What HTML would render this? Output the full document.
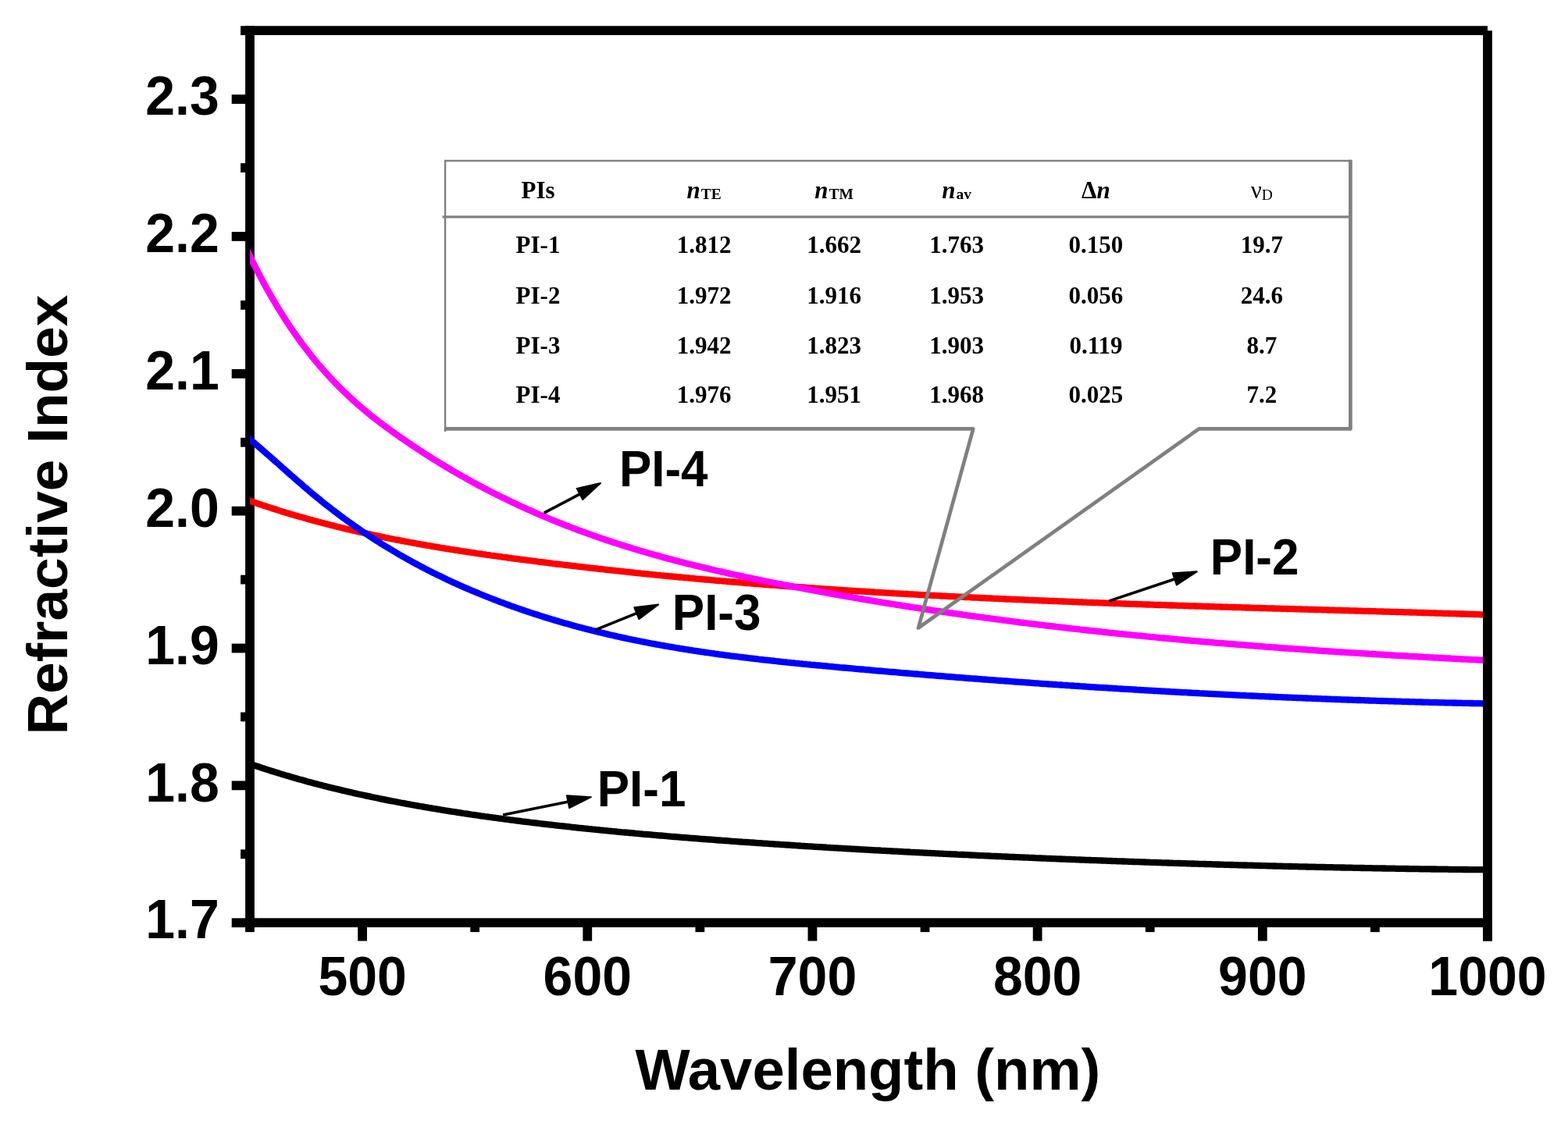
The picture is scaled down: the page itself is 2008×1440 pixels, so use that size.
<!DOCTYPE html>
<html><head><meta charset="utf-8"><title>Refractive Index vs Wavelength</title>
<style>
html,body{margin:0;padding:0;background:#fff;}
body{width:2008px;height:1440px;overflow:hidden;}
svg{display:block;}
.ax{font-family:"Liberation Sans",Arial,sans-serif;font-weight:bold;fill:#000;}
.tb{font-family:"Liberation Serif","Times New Roman",serif;font-weight:bold;fill:#000;}
</style></head><body>
<svg width="2008" height="1440" viewBox="0 0 2008 1440">
<rect x="0" y="0" width="2008" height="1440" fill="#fff"/>

<g stroke="#000" stroke-width="11.8" fill="none" stroke-linecap="butt">
<line x1="320.0" y1="33.27499999999973" x2="320.0" y2="1188.1000000000001"/>
<line x1="314.1" y1="39.17499999999973" x2="1904.99" y2="39.17499999999973"/>
<line x1="314.1" y1="1182.2" x2="1910.89" y2="1182.2"/>
<line x1="296.70" y1="1182.20" x2="320.0" y2="1182.20"/>
<line x1="308.10" y1="1094.27" x2="320.0" y2="1094.27"/>
<line x1="296.70" y1="1006.35" x2="320.0" y2="1006.35"/>
<line x1="308.10" y1="918.42" x2="320.0" y2="918.42"/>
<line x1="296.70" y1="830.50" x2="320.0" y2="830.50"/>
<line x1="308.10" y1="742.58" x2="320.0" y2="742.58"/>
<line x1="296.70" y1="654.65" x2="320.0" y2="654.65"/>
<line x1="308.10" y1="566.73" x2="320.0" y2="566.73"/>
<line x1="296.70" y1="478.80" x2="320.0" y2="478.80"/>
<line x1="308.10" y1="390.88" x2="320.0" y2="390.88"/>
<line x1="296.70" y1="302.95" x2="320.0" y2="302.95"/>
<line x1="308.10" y1="215.02" x2="320.0" y2="215.02"/>
<line x1="296.70" y1="127.10" x2="320.0" y2="127.10"/>
<line x1="308.10" y1="39.17" x2="320.0" y2="39.17"/>
<line x1="320.00" y1="1182.2" x2="320.00" y2="1194.10"/>
<line x1="464.09" y1="1182.2" x2="464.09" y2="1205.50"/>
<line x1="608.18" y1="1182.2" x2="608.18" y2="1194.10"/>
<line x1="752.27" y1="1182.2" x2="752.27" y2="1205.50"/>
<line x1="896.36" y1="1182.2" x2="896.36" y2="1194.10"/>
<line x1="1040.45" y1="1182.2" x2="1040.45" y2="1205.50"/>
<line x1="1184.54" y1="1182.2" x2="1184.54" y2="1194.10"/>
<line x1="1328.63" y1="1182.2" x2="1328.63" y2="1205.50"/>
<line x1="1472.72" y1="1182.2" x2="1472.72" y2="1194.10"/>
<line x1="1616.81" y1="1182.2" x2="1616.81" y2="1205.50"/>
<line x1="1760.90" y1="1182.2" x2="1760.90" y2="1194.10"/>
<line x1="1904.99" y1="1182.2" x2="1904.99" y2="1205.50"/>
</g>
<defs><clipPath id="pc"><rect x="320.0" y="0" width="1584.99" height="1440"/></clipPath></defs>
<g fill="none" stroke-width="8.3" stroke-linejoin="round" stroke-linecap="butt" clip-path="url(#pc)">
<path d="M316.0,977.2 L318.5,978.0 L321.0,978.9 L323.5,979.8 L326.0,980.6 L328.5,981.5 L331.0,982.3 L333.5,983.1 L336.0,984.0 L338.5,984.8 L341.0,985.6 L343.5,986.4 L346.0,987.2 L348.5,988.0 L351.0,988.8 L353.5,989.6 L356.0,990.3 L358.5,991.1 L361.0,991.9 L363.5,992.6 L366.0,993.4 L368.5,994.1 L371.0,994.8 L373.5,995.6 L376.0,996.3 L378.5,997.0 L381.0,997.7 L383.5,998.4 L386.0,999.1 L388.5,999.8 L391.0,1000.5 L393.5,1001.2 L396.0,1001.9 L398.5,1002.5 L401.0,1003.2 L403.5,1003.9 L406.0,1004.5 L408.5,1005.2 L411.0,1005.8 L413.5,1006.5 L416.0,1007.1 L418.5,1007.7 L421.0,1008.4 L423.5,1009.0 L426.0,1009.6 L428.5,1010.2 L431.0,1010.8 L433.5,1011.4 L436.0,1012.0 L438.5,1012.6 L441.0,1013.2 L443.5,1013.8 L446.0,1014.4 L448.5,1014.9 L451.0,1015.5 L453.5,1016.1 L456.0,1016.6 L458.5,1017.2 L461.0,1017.7 L463.5,1018.3 L466.0,1018.8 L468.5,1019.4 L471.0,1019.9 L473.5,1020.4 L476.0,1021.0 L478.5,1021.5 L481.0,1022.0 L483.5,1022.5 L486.0,1023.1 L488.5,1023.6 L491.0,1024.1 L493.5,1024.6 L496.0,1025.1 L498.5,1025.6 L501.0,1026.1 L503.5,1026.5 L506.0,1027.0 L508.5,1027.5 L511.0,1028.0 L513.5,1028.5 L516.0,1028.9 L518.5,1029.4 L521.0,1029.9 L523.5,1030.3 L526.0,1030.8 L528.5,1031.2 L531.0,1031.7 L533.5,1032.1 L536.0,1032.6 L538.5,1033.0 L541.0,1033.4 L543.5,1033.9 L546.0,1034.3 L548.5,1034.7 L551.0,1035.2 L553.5,1035.6 L556.0,1036.0 L558.5,1036.4 L561.0,1036.8 L563.5,1037.2 L566.0,1037.7 L568.5,1038.1 L571.0,1038.5 L573.5,1038.9 L576.0,1039.3 L578.5,1039.7 L581.0,1040.0 L583.5,1040.4 L586.0,1040.8 L588.5,1041.2 L591.0,1041.6 L593.5,1042.0 L596.0,1042.3 L598.5,1042.7 L601.0,1043.1 L603.5,1043.5 L606.0,1043.8 L608.5,1044.2 L611.0,1044.5 L613.5,1044.9 L616.0,1045.3 L618.5,1045.6 L621.0,1046.0 L623.5,1046.3 L626.0,1046.7 L628.5,1047.0 L631.0,1047.4 L633.5,1047.7 L636.0,1048.0 L638.5,1048.4 L641.0,1048.7 L643.5,1049.0 L646.0,1049.4 L648.5,1049.7 L651.0,1050.0 L653.5,1050.4 L656.0,1050.7 L658.5,1051.0 L661.0,1051.3 L663.5,1051.6 L666.0,1051.9 L668.5,1052.3 L671.0,1052.6 L673.5,1052.9 L676.0,1053.2 L678.5,1053.5 L681.0,1053.8 L683.5,1054.1 L686.0,1054.4 L688.5,1054.7 L691.0,1055.0 L693.5,1055.3 L696.0,1055.6 L698.5,1055.9 L701.0,1056.2 L703.5,1056.5 L706.0,1056.7 L708.5,1057.0 L711.0,1057.3 L713.5,1057.6 L716.0,1057.9 L718.5,1058.1 L721.0,1058.4 L723.5,1058.7 L726.0,1059.0 L728.5,1059.2 L731.0,1059.5 L733.5,1059.8 L736.0,1060.0 L738.5,1060.3 L741.0,1060.6 L743.5,1060.8 L746.0,1061.1 L748.5,1061.4 L751.0,1061.6 L753.5,1061.9 L756.0,1062.1 L758.5,1062.4 L761.0,1062.6 L763.5,1062.9 L766.0,1063.1 L768.5,1063.4 L771.0,1063.6 L773.5,1063.9 L776.0,1064.1 L778.5,1064.4 L781.0,1064.6 L783.5,1064.9 L786.0,1065.1 L788.5,1065.3 L791.0,1065.6 L793.5,1065.8 L796.0,1066.1 L798.5,1066.3 L801.0,1066.5 L803.5,1066.7 L806.0,1067.0 L808.5,1067.2 L811.0,1067.4 L813.5,1067.7 L816.0,1067.9 L818.5,1068.1 L821.0,1068.3 L823.5,1068.6 L826.0,1068.8 L828.5,1069.0 L831.0,1069.2 L833.5,1069.4 L836.0,1069.7 L838.5,1069.9 L841.0,1070.1 L843.5,1070.3 L846.0,1070.5 L848.5,1070.7 L851.0,1070.9 L853.5,1071.2 L856.0,1071.4 L858.5,1071.6 L861.0,1071.8 L863.5,1072.0 L866.0,1072.2 L868.5,1072.4 L871.0,1072.6 L873.5,1072.8 L876.0,1073.0 L878.5,1073.2 L881.0,1073.4 L883.5,1073.6 L886.0,1073.8 L888.5,1074.0 L891.0,1074.2 L893.5,1074.4 L896.0,1074.6 L898.5,1074.8 L901.0,1075.0 L903.5,1075.2 L906.0,1075.4 L908.5,1075.5 L911.0,1075.7 L913.5,1075.9 L916.0,1076.1 L918.5,1076.3 L921.0,1076.5 L923.5,1076.7 L926.0,1076.9 L928.5,1077.0 L931.0,1077.2 L933.5,1077.4 L936.0,1077.6 L938.5,1077.8 L941.0,1077.9 L943.5,1078.1 L946.0,1078.3 L948.5,1078.5 L951.0,1078.7 L953.5,1078.8 L956.0,1079.0 L958.5,1079.2 L961.0,1079.4 L963.5,1079.5 L966.0,1079.7 L968.5,1079.9 L971.0,1080.1 L973.5,1080.2 L976.0,1080.4 L978.5,1080.6 L981.0,1080.7 L983.5,1080.9 L986.0,1081.1 L988.5,1081.2 L991.0,1081.4 L993.5,1081.6 L996.0,1081.7 L998.5,1081.9 L1001.0,1082.1 L1003.5,1082.2 L1006.0,1082.4 L1008.5,1082.5 L1011.0,1082.7 L1013.5,1082.9 L1016.0,1083.0 L1018.5,1083.2 L1021.0,1083.3 L1023.5,1083.5 L1026.0,1083.7 L1028.5,1083.8 L1031.0,1084.0 L1033.5,1084.1 L1036.0,1084.3 L1038.5,1084.4 L1041.0,1084.6 L1043.5,1084.8 L1046.0,1084.9 L1048.5,1085.1 L1051.0,1085.2 L1053.5,1085.4 L1056.0,1085.5 L1058.5,1085.7 L1061.0,1085.8 L1063.5,1086.0 L1066.0,1086.1 L1068.5,1086.3 L1071.0,1086.4 L1073.5,1086.6 L1076.0,1086.7 L1078.5,1086.8 L1081.0,1087.0 L1083.5,1087.1 L1086.0,1087.3 L1088.5,1087.4 L1091.0,1087.6 L1093.5,1087.7 L1096.0,1087.9 L1098.5,1088.0 L1101.0,1088.1 L1103.5,1088.3 L1106.0,1088.4 L1108.5,1088.6 L1111.0,1088.7 L1113.5,1088.8 L1116.0,1089.0 L1118.5,1089.1 L1121.0,1089.3 L1123.5,1089.4 L1126.0,1089.5 L1128.5,1089.7 L1131.0,1089.8 L1133.5,1089.9 L1136.0,1090.1 L1138.5,1090.2 L1141.0,1090.3 L1143.5,1090.5 L1146.0,1090.6 L1148.5,1090.7 L1151.0,1090.9 L1153.5,1091.0 L1156.0,1091.1 L1158.5,1091.3 L1161.0,1091.4 L1163.5,1091.5 L1166.0,1091.7 L1168.5,1091.8 L1171.0,1091.9 L1173.5,1092.1 L1176.0,1092.2 L1178.5,1092.3 L1181.0,1092.4 L1183.5,1092.6 L1186.0,1092.7 L1188.5,1092.8 L1191.0,1092.9 L1193.5,1093.1 L1196.0,1093.2 L1198.5,1093.3 L1201.0,1093.4 L1203.5,1093.6 L1206.0,1093.7 L1208.5,1093.8 L1211.0,1093.9 L1213.5,1094.1 L1216.0,1094.2 L1218.5,1094.3 L1221.0,1094.4 L1223.5,1094.5 L1226.0,1094.7 L1228.5,1094.8 L1231.0,1094.9 L1233.5,1095.0 L1236.0,1095.1 L1238.5,1095.2 L1241.0,1095.4 L1243.5,1095.5 L1246.0,1095.6 L1248.5,1095.7 L1251.0,1095.8 L1253.5,1096.0 L1256.0,1096.1 L1258.5,1096.2 L1261.0,1096.3 L1263.5,1096.4 L1266.0,1096.5 L1268.5,1096.6 L1271.0,1096.8 L1273.5,1096.9 L1276.0,1097.0 L1278.5,1097.1 L1281.0,1097.2 L1283.5,1097.3 L1286.0,1097.4 L1288.5,1097.5 L1291.0,1097.6 L1293.5,1097.8 L1296.0,1097.9 L1298.5,1098.0 L1301.0,1098.1 L1303.5,1098.2 L1306.0,1098.3 L1308.5,1098.4 L1311.0,1098.5 L1313.5,1098.6 L1316.0,1098.7 L1318.5,1098.8 L1321.0,1098.9 L1323.5,1099.0 L1326.0,1099.2 L1328.5,1099.3 L1331.0,1099.4 L1333.5,1099.5 L1336.0,1099.6 L1338.5,1099.7 L1341.0,1099.8 L1343.5,1099.9 L1346.0,1100.0 L1348.5,1100.1 L1351.0,1100.2 L1353.5,1100.3 L1356.0,1100.4 L1358.5,1100.5 L1361.0,1100.6 L1363.5,1100.7 L1366.0,1100.8 L1368.5,1100.9 L1371.0,1101.0 L1373.5,1101.1 L1376.0,1101.2 L1378.5,1101.3 L1381.0,1101.4 L1383.5,1101.5 L1386.0,1101.6 L1388.5,1101.7 L1391.0,1101.8 L1393.5,1101.9 L1396.0,1102.0 L1398.5,1102.1 L1401.0,1102.1 L1403.5,1102.2 L1406.0,1102.3 L1408.5,1102.4 L1411.0,1102.5 L1413.5,1102.6 L1416.0,1102.7 L1418.5,1102.8 L1421.0,1102.9 L1423.5,1103.0 L1426.0,1103.1 L1428.5,1103.2 L1431.0,1103.3 L1433.5,1103.4 L1436.0,1103.4 L1438.5,1103.5 L1441.0,1103.6 L1443.5,1103.7 L1446.0,1103.8 L1448.5,1103.9 L1451.0,1104.0 L1453.5,1104.1 L1456.0,1104.2 L1458.5,1104.2 L1461.0,1104.3 L1463.5,1104.4 L1466.0,1104.5 L1468.5,1104.6 L1471.0,1104.7 L1473.5,1104.8 L1476.0,1104.8 L1478.5,1104.9 L1481.0,1105.0 L1483.5,1105.1 L1486.0,1105.2 L1488.5,1105.3 L1491.0,1105.3 L1493.5,1105.4 L1496.0,1105.5 L1498.5,1105.6 L1501.0,1105.7 L1503.5,1105.8 L1506.0,1105.8 L1508.5,1105.9 L1511.0,1106.0 L1513.5,1106.1 L1516.0,1106.2 L1518.5,1106.2 L1521.0,1106.3 L1523.5,1106.4 L1526.0,1106.5 L1528.5,1106.5 L1531.0,1106.6 L1533.5,1106.7 L1536.0,1106.8 L1538.5,1106.9 L1541.0,1106.9 L1543.5,1107.0 L1546.0,1107.1 L1548.5,1107.2 L1551.0,1107.2 L1553.5,1107.3 L1556.0,1107.4 L1558.5,1107.5 L1561.0,1107.5 L1563.5,1107.6 L1566.0,1107.7 L1568.5,1107.8 L1571.0,1107.8 L1573.5,1107.9 L1576.0,1108.0 L1578.5,1108.0 L1581.0,1108.1 L1583.5,1108.2 L1586.0,1108.3 L1588.5,1108.3 L1591.0,1108.4 L1593.5,1108.5 L1596.0,1108.5 L1598.5,1108.6 L1601.0,1108.7 L1603.5,1108.7 L1606.0,1108.8 L1608.5,1108.9 L1611.0,1108.9 L1613.5,1109.0 L1616.0,1109.1 L1618.5,1109.1 L1621.0,1109.2 L1623.5,1109.3 L1626.0,1109.3 L1628.5,1109.4 L1631.0,1109.5 L1633.5,1109.5 L1636.0,1109.6 L1638.5,1109.6 L1641.0,1109.7 L1643.5,1109.8 L1646.0,1109.8 L1648.5,1109.9 L1651.0,1110.0 L1653.5,1110.0 L1656.0,1110.1 L1658.5,1110.1 L1661.0,1110.2 L1663.5,1110.3 L1666.0,1110.3 L1668.5,1110.4 L1671.0,1110.4 L1673.5,1110.5 L1676.0,1110.6 L1678.5,1110.6 L1681.0,1110.7 L1683.5,1110.7 L1686.0,1110.8 L1688.5,1110.8 L1691.0,1110.9 L1693.5,1110.9 L1696.0,1111.0 L1698.5,1111.1 L1701.0,1111.1 L1703.5,1111.2 L1706.0,1111.2 L1708.5,1111.3 L1711.0,1111.3 L1713.5,1111.4 L1716.0,1111.4 L1718.5,1111.5 L1721.0,1111.5 L1723.5,1111.6 L1726.0,1111.6 L1728.5,1111.7 L1731.0,1111.7 L1733.5,1111.8 L1736.0,1111.8 L1738.5,1111.9 L1741.0,1111.9 L1743.5,1112.0 L1746.0,1112.0 L1748.5,1112.1 L1751.0,1112.1 L1753.5,1112.2 L1756.0,1112.2 L1758.5,1112.3 L1761.0,1112.3 L1763.5,1112.4 L1766.0,1112.4 L1768.5,1112.4 L1771.0,1112.5 L1773.5,1112.5 L1776.0,1112.6 L1778.5,1112.6 L1781.0,1112.7 L1783.5,1112.7 L1786.0,1112.7 L1788.5,1112.8 L1791.0,1112.8 L1793.5,1112.9 L1796.0,1112.9 L1798.5,1112.9 L1801.0,1113.0 L1803.5,1113.0 L1806.0,1113.1 L1808.5,1113.1 L1811.0,1113.1 L1813.5,1113.2 L1816.0,1113.2 L1818.5,1113.3 L1821.0,1113.3 L1823.5,1113.3 L1826.0,1113.4 L1828.5,1113.4 L1831.0,1113.4 L1833.5,1113.5 L1836.0,1113.5 L1838.5,1113.5 L1841.0,1113.6 L1843.5,1113.6 L1846.0,1113.6 L1848.5,1113.7 L1851.0,1113.7 L1853.5,1113.7 L1856.0,1113.8 L1858.5,1113.8 L1861.0,1113.8 L1863.5,1113.9 L1866.0,1113.9 L1868.5,1113.9 L1871.0,1113.9 L1873.5,1114.0 L1876.0,1114.0 L1878.5,1114.0 L1881.0,1114.1 L1883.5,1114.1 L1886.0,1114.1 L1888.5,1114.1 L1891.0,1114.2 L1893.5,1114.2 L1896.0,1114.2 L1898.5,1114.2 L1901.0,1114.3 L1903.5,1114.3 L1906.0,1114.3 L1908.5,1114.3" stroke="#000"/>
<path d="M316.0,640.3 L318.5,641.2 L321.0,642.1 L323.5,642.9 L326.0,643.8 L328.5,644.6 L331.0,645.5 L333.5,646.3 L336.0,647.2 L338.5,648.0 L341.0,648.8 L343.5,649.6 L346.0,650.4 L348.5,651.2 L351.0,652.0 L353.5,652.8 L356.0,653.6 L358.5,654.4 L361.0,655.2 L363.5,655.9 L366.0,656.7 L368.5,657.4 L371.0,658.2 L373.5,658.9 L376.0,659.7 L378.5,660.4 L381.0,661.1 L383.5,661.9 L386.0,662.6 L388.5,663.3 L391.0,664.0 L393.5,664.7 L396.0,665.4 L398.5,666.1 L401.0,666.8 L403.5,667.4 L406.0,668.1 L408.5,668.8 L411.0,669.4 L413.5,670.1 L416.0,670.8 L418.5,671.4 L421.0,672.0 L423.5,672.7 L426.0,673.3 L428.5,673.9 L431.0,674.6 L433.5,675.2 L436.0,675.8 L438.5,676.4 L441.0,677.0 L443.5,677.6 L446.0,678.2 L448.5,678.8 L451.0,679.4 L453.5,680.0 L456.0,680.5 L458.5,681.1 L461.0,681.7 L463.5,682.2 L466.0,682.8 L468.5,683.3 L471.0,683.9 L473.5,684.4 L476.0,685.0 L478.5,685.5 L481.0,686.1 L483.5,686.6 L486.0,687.1 L488.5,687.6 L491.0,688.1 L493.5,688.7 L496.0,689.2 L498.5,689.7 L501.0,690.2 L503.5,690.7 L506.0,691.2 L508.5,691.7 L511.0,692.1 L513.5,692.6 L516.0,693.1 L518.5,693.6 L521.0,694.0 L523.5,694.5 L526.0,695.0 L528.5,695.4 L531.0,695.9 L533.5,696.4 L536.0,696.8 L538.5,697.3 L541.0,697.7 L543.5,698.1 L546.0,698.6 L548.5,699.0 L551.0,699.4 L553.5,699.9 L556.0,700.3 L558.5,700.7 L561.0,701.1 L563.5,701.6 L566.0,702.0 L568.5,702.4 L571.0,702.8 L573.5,703.2 L576.0,703.6 L578.5,704.0 L581.0,704.4 L583.5,704.8 L586.0,705.2 L588.5,705.6 L591.0,706.0 L593.5,706.3 L596.0,706.7 L598.5,707.1 L601.0,707.5 L603.5,707.9 L606.0,708.2 L608.5,708.6 L611.0,709.0 L613.5,709.3 L616.0,709.7 L618.5,710.1 L621.0,710.4 L623.5,710.8 L626.0,711.1 L628.5,711.5 L631.0,711.8 L633.5,712.2 L636.0,712.5 L638.5,712.9 L641.0,713.2 L643.5,713.6 L646.0,713.9 L648.5,714.2 L651.0,714.6 L653.5,714.9 L656.0,715.3 L658.5,715.6 L661.0,715.9 L663.5,716.2 L666.0,716.6 L668.5,716.9 L671.0,717.2 L673.5,717.5 L676.0,717.9 L678.5,718.2 L681.0,718.5 L683.5,718.8 L686.0,719.1 L688.5,719.5 L691.0,719.8 L693.5,720.1 L696.0,720.4 L698.5,720.7 L701.0,721.0 L703.5,721.3 L706.0,721.6 L708.5,722.0 L711.0,722.3 L713.5,722.6 L716.0,722.9 L718.5,723.2 L721.0,723.5 L723.5,723.8 L726.0,724.1 L728.5,724.4 L731.0,724.7 L733.5,725.0 L736.0,725.2 L738.5,725.5 L741.0,725.8 L743.5,726.1 L746.0,726.4 L748.5,726.7 L751.0,727.0 L753.5,727.3 L756.0,727.6 L758.5,727.8 L761.0,728.1 L763.5,728.4 L766.0,728.7 L768.5,729.0 L771.0,729.2 L773.5,729.5 L776.0,729.8 L778.5,730.1 L781.0,730.3 L783.5,730.6 L786.0,730.9 L788.5,731.2 L791.0,731.4 L793.5,731.7 L796.0,732.0 L798.5,732.2 L801.0,732.5 L803.5,732.8 L806.0,733.0 L808.5,733.3 L811.0,733.5 L813.5,733.8 L816.0,734.1 L818.5,734.3 L821.0,734.6 L823.5,734.8 L826.0,735.1 L828.5,735.3 L831.0,735.6 L833.5,735.8 L836.0,736.1 L838.5,736.3 L841.0,736.6 L843.5,736.8 L846.0,737.1 L848.5,737.3 L851.0,737.6 L853.5,737.8 L856.0,738.1 L858.5,738.3 L861.0,738.5 L863.5,738.8 L866.0,739.0 L868.5,739.3 L871.0,739.5 L873.5,739.7 L876.0,740.0 L878.5,740.2 L881.0,740.4 L883.5,740.7 L886.0,740.9 L888.5,741.1 L891.0,741.4 L893.5,741.6 L896.0,741.8 L898.5,742.0 L901.0,742.3 L903.5,742.5 L906.0,742.7 L908.5,742.9 L911.0,743.2 L913.5,743.4 L916.0,743.6 L918.5,743.8 L921.0,744.0 L923.5,744.2 L926.0,744.5 L928.5,744.7 L931.0,744.9 L933.5,745.1 L936.0,745.3 L938.5,745.5 L941.0,745.7 L943.5,745.9 L946.0,746.1 L948.5,746.4 L951.0,746.6 L953.5,746.8 L956.0,747.0 L958.5,747.2 L961.0,747.4 L963.5,747.6 L966.0,747.8 L968.5,748.0 L971.0,748.2 L973.5,748.4 L976.0,748.6 L978.5,748.8 L981.0,749.0 L983.5,749.2 L986.0,749.4 L988.5,749.6 L991.0,749.7 L993.5,749.9 L996.0,750.1 L998.5,750.3 L1001.0,750.5 L1003.5,750.7 L1006.0,750.9 L1008.5,751.1 L1011.0,751.3 L1013.5,751.4 L1016.0,751.6 L1018.5,751.8 L1021.0,752.0 L1023.5,752.2 L1026.0,752.4 L1028.5,752.5 L1031.0,752.7 L1033.5,752.9 L1036.0,753.1 L1038.5,753.2 L1041.0,753.4 L1043.5,753.6 L1046.0,753.8 L1048.5,753.9 L1051.0,754.1 L1053.5,754.3 L1056.0,754.5 L1058.5,754.6 L1061.0,754.8 L1063.5,755.0 L1066.0,755.1 L1068.5,755.3 L1071.0,755.5 L1073.5,755.6 L1076.0,755.8 L1078.5,756.0 L1081.0,756.1 L1083.5,756.3 L1086.0,756.5 L1088.5,756.6 L1091.0,756.8 L1093.5,756.9 L1096.0,757.1 L1098.5,757.3 L1101.0,757.4 L1103.5,757.6 L1106.0,757.7 L1108.5,757.9 L1111.0,758.0 L1113.5,758.2 L1116.0,758.4 L1118.5,758.5 L1121.0,758.7 L1123.5,758.8 L1126.0,759.0 L1128.5,759.1 L1131.0,759.3 L1133.5,759.4 L1136.0,759.6 L1138.5,759.7 L1141.0,759.9 L1143.5,760.0 L1146.0,760.2 L1148.5,760.3 L1151.0,760.4 L1153.5,760.6 L1156.0,760.7 L1158.5,760.9 L1161.0,761.0 L1163.5,761.2 L1166.0,761.3 L1168.5,761.4 L1171.0,761.6 L1173.5,761.7 L1176.0,761.8 L1178.5,762.0 L1181.0,762.1 L1183.5,762.3 L1186.0,762.4 L1188.5,762.5 L1191.0,762.7 L1193.5,762.8 L1196.0,762.9 L1198.5,763.1 L1201.0,763.2 L1203.5,763.3 L1206.0,763.5 L1208.5,763.6 L1211.0,763.7 L1213.5,763.8 L1216.0,764.0 L1218.5,764.1 L1221.0,764.2 L1223.5,764.4 L1226.0,764.5 L1228.5,764.6 L1231.0,764.7 L1233.5,764.9 L1236.0,765.0 L1238.5,765.1 L1241.0,765.2 L1243.5,765.3 L1246.0,765.5 L1248.5,765.6 L1251.0,765.7 L1253.5,765.8 L1256.0,766.0 L1258.5,766.1 L1261.0,766.2 L1263.5,766.3 L1266.0,766.4 L1268.5,766.5 L1271.0,766.7 L1273.5,766.8 L1276.0,766.9 L1278.5,767.0 L1281.0,767.1 L1283.5,767.2 L1286.0,767.3 L1288.5,767.5 L1291.0,767.6 L1293.5,767.7 L1296.0,767.8 L1298.5,767.9 L1301.0,768.0 L1303.5,768.1 L1306.0,768.2 L1308.5,768.3 L1311.0,768.4 L1313.5,768.6 L1316.0,768.7 L1318.5,768.8 L1321.0,768.9 L1323.5,769.0 L1326.0,769.1 L1328.5,769.2 L1331.0,769.3 L1333.5,769.4 L1336.0,769.5 L1338.5,769.6 L1341.0,769.7 L1343.5,769.8 L1346.0,769.9 L1348.5,770.0 L1351.0,770.1 L1353.5,770.2 L1356.0,770.3 L1358.5,770.4 L1361.0,770.5 L1363.5,770.6 L1366.0,770.7 L1368.5,770.8 L1371.0,770.9 L1373.5,771.0 L1376.0,771.1 L1378.5,771.2 L1381.0,771.3 L1383.5,771.4 L1386.0,771.5 L1388.5,771.6 L1391.0,771.7 L1393.5,771.8 L1396.0,771.9 L1398.5,772.0 L1401.0,772.1 L1403.5,772.2 L1406.0,772.2 L1408.5,772.3 L1411.0,772.4 L1413.5,772.5 L1416.0,772.6 L1418.5,772.7 L1421.0,772.8 L1423.5,772.9 L1426.0,773.0 L1428.5,773.1 L1431.0,773.2 L1433.5,773.2 L1436.0,773.3 L1438.5,773.4 L1441.0,773.5 L1443.5,773.6 L1446.0,773.7 L1448.5,773.8 L1451.0,773.9 L1453.5,773.9 L1456.0,774.0 L1458.5,774.1 L1461.0,774.2 L1463.5,774.3 L1466.0,774.4 L1468.5,774.5 L1471.0,774.5 L1473.5,774.6 L1476.0,774.7 L1478.5,774.8 L1481.0,774.9 L1483.5,775.0 L1486.0,775.0 L1488.5,775.1 L1491.0,775.2 L1493.5,775.3 L1496.0,775.4 L1498.5,775.5 L1501.0,775.5 L1503.5,775.6 L1506.0,775.7 L1508.5,775.8 L1511.0,775.9 L1513.5,775.9 L1516.0,776.0 L1518.5,776.1 L1521.0,776.2 L1523.5,776.3 L1526.0,776.3 L1528.5,776.4 L1531.0,776.5 L1533.5,776.6 L1536.0,776.7 L1538.5,776.7 L1541.0,776.8 L1543.5,776.9 L1546.0,777.0 L1548.5,777.0 L1551.0,777.1 L1553.5,777.2 L1556.0,777.3 L1558.5,777.3 L1561.0,777.4 L1563.5,777.5 L1566.0,777.6 L1568.5,777.6 L1571.0,777.7 L1573.5,777.8 L1576.0,777.9 L1578.5,778.0 L1581.0,778.0 L1583.5,778.1 L1586.0,778.2 L1588.5,778.2 L1591.0,778.3 L1593.5,778.4 L1596.0,778.5 L1598.5,778.5 L1601.0,778.6 L1603.5,778.7 L1606.0,778.8 L1608.5,778.8 L1611.0,778.9 L1613.5,779.0 L1616.0,779.1 L1618.5,779.1 L1621.0,779.2 L1623.5,779.3 L1626.0,779.4 L1628.5,779.4 L1631.0,779.5 L1633.5,779.6 L1636.0,779.6 L1638.5,779.7 L1641.0,779.8 L1643.5,779.9 L1646.0,779.9 L1648.5,780.0 L1651.0,780.1 L1653.5,780.1 L1656.0,780.2 L1658.5,780.3 L1661.0,780.4 L1663.5,780.4 L1666.0,780.5 L1668.5,780.6 L1671.0,780.6 L1673.5,780.7 L1676.0,780.8 L1678.5,780.9 L1681.0,780.9 L1683.5,781.0 L1686.0,781.1 L1688.5,781.1 L1691.0,781.2 L1693.5,781.3 L1696.0,781.4 L1698.5,781.4 L1701.0,781.5 L1703.5,781.6 L1706.0,781.6 L1708.5,781.7 L1711.0,781.8 L1713.5,781.9 L1716.0,781.9 L1718.5,782.0 L1721.0,782.1 L1723.5,782.1 L1726.0,782.2 L1728.5,782.3 L1731.0,782.4 L1733.5,782.4 L1736.0,782.5 L1738.5,782.6 L1741.0,782.6 L1743.5,782.7 L1746.0,782.8 L1748.5,782.9 L1751.0,782.9 L1753.5,783.0 L1756.0,783.1 L1758.5,783.1 L1761.0,783.2 L1763.5,783.3 L1766.0,783.4 L1768.5,783.4 L1771.0,783.5 L1773.5,783.6 L1776.0,783.6 L1778.5,783.7 L1781.0,783.8 L1783.5,783.9 L1786.0,783.9 L1788.5,784.0 L1791.0,784.1 L1793.5,784.2 L1796.0,784.2 L1798.5,784.3 L1801.0,784.4 L1803.5,784.4 L1806.0,784.5 L1808.5,784.6 L1811.0,784.7 L1813.5,784.7 L1816.0,784.8 L1818.5,784.9 L1821.0,785.0 L1823.5,785.0 L1826.0,785.1 L1828.5,785.2 L1831.0,785.3 L1833.5,785.3 L1836.0,785.4 L1838.5,785.5 L1841.0,785.6 L1843.5,785.6 L1846.0,785.7 L1848.5,785.8 L1851.0,785.9 L1853.5,785.9 L1856.0,786.0 L1858.5,786.1 L1861.0,786.2 L1863.5,786.2 L1866.0,786.3 L1868.5,786.4 L1871.0,786.5 L1873.5,786.5 L1876.0,786.6 L1878.5,786.7 L1881.0,786.8 L1883.5,786.9 L1886.0,786.9 L1888.5,787.0 L1891.0,787.1 L1893.5,787.2 L1896.0,787.3 L1898.5,787.3 L1901.0,787.4 L1903.5,787.5 L1906.0,787.6 L1908.5,787.7" stroke="#f00"/>
<path d="M316.0,559.4 L318.5,561.5 L321.0,563.6 L323.5,565.7 L326.0,567.8 L328.5,570.0 L331.0,572.1 L333.5,574.3 L336.0,576.4 L338.5,578.6 L341.0,580.8 L343.5,583.0 L346.0,585.2 L348.5,587.4 L351.0,589.6 L353.5,591.8 L356.0,594.0 L358.5,596.3 L361.0,598.5 L363.5,600.7 L366.0,602.9 L368.5,605.1 L371.0,607.3 L373.5,609.5 L376.0,611.7 L378.5,613.9 L381.0,616.1 L383.5,618.2 L386.0,620.4 L388.5,622.6 L391.0,624.7 L393.5,626.8 L396.0,629.0 L398.5,631.1 L401.0,633.2 L403.5,635.2 L406.0,637.3 L408.5,639.3 L411.0,641.4 L413.5,643.4 L416.0,645.4 L418.5,647.4 L421.0,649.3 L423.5,651.3 L426.0,653.2 L428.5,655.1 L431.0,657.0 L433.5,658.9 L436.0,660.8 L438.5,662.6 L441.0,664.5 L443.5,666.3 L446.0,668.1 L448.5,669.9 L451.0,671.7 L453.5,673.5 L456.0,675.2 L458.5,676.9 L461.0,678.7 L463.5,680.4 L466.0,682.1 L468.5,683.7 L471.0,685.4 L473.5,687.1 L476.0,688.7 L478.5,690.3 L481.0,691.9 L483.5,693.5 L486.0,695.1 L488.5,696.7 L491.0,698.2 L493.5,699.8 L496.0,701.3 L498.5,702.8 L501.0,704.3 L503.5,705.8 L506.0,707.3 L508.5,708.8 L511.0,710.2 L513.5,711.7 L516.0,713.1 L518.5,714.5 L521.0,715.9 L523.5,717.3 L526.0,718.7 L528.5,720.1 L531.0,721.5 L533.5,722.8 L536.0,724.1 L538.5,725.5 L541.0,726.8 L543.5,728.1 L546.0,729.4 L548.5,730.7 L551.0,731.9 L553.5,733.2 L556.0,734.4 L558.5,735.7 L561.0,736.9 L563.5,738.1 L566.0,739.3 L568.5,740.5 L571.0,741.7 L573.5,742.9 L576.0,744.1 L578.5,745.2 L581.0,746.4 L583.5,747.5 L586.0,748.6 L588.5,749.7 L591.0,750.9 L593.5,752.0 L596.0,753.1 L598.5,754.1 L601.0,755.2 L603.5,756.3 L606.0,757.3 L608.5,758.4 L611.0,759.4 L613.5,760.5 L616.0,761.5 L618.5,762.5 L621.0,763.5 L623.5,764.5 L626.0,765.5 L628.5,766.5 L631.0,767.5 L633.5,768.4 L636.0,769.4 L638.5,770.3 L641.0,771.3 L643.5,772.2 L646.0,773.2 L648.5,774.1 L651.0,775.0 L653.5,775.9 L656.0,776.8 L658.5,777.7 L661.0,778.6 L663.5,779.4 L666.0,780.3 L668.5,781.2 L671.0,782.0 L673.5,782.9 L676.0,783.7 L678.5,784.6 L681.0,785.4 L683.5,786.2 L686.0,787.0 L688.5,787.8 L691.0,788.6 L693.5,789.4 L696.0,790.2 L698.5,791.0 L701.0,791.8 L703.5,792.5 L706.0,793.3 L708.5,794.0 L711.0,794.8 L713.5,795.5 L716.0,796.3 L718.5,797.0 L721.0,797.7 L723.5,798.4 L726.0,799.1 L728.5,799.8 L731.0,800.5 L733.5,801.2 L736.0,801.9 L738.5,802.6 L741.0,803.2 L743.5,803.9 L746.0,804.6 L748.5,805.2 L751.0,805.9 L753.5,806.5 L756.0,807.1 L758.5,807.8 L761.0,808.4 L763.5,809.0 L766.0,809.6 L768.5,810.2 L771.0,810.8 L773.5,811.4 L776.0,812.0 L778.5,812.6 L781.0,813.2 L783.5,813.8 L786.0,814.3 L788.5,814.9 L791.0,815.5 L793.5,816.0 L796.0,816.6 L798.5,817.1 L801.0,817.6 L803.5,818.2 L806.0,818.7 L808.5,819.2 L811.0,819.7 L813.5,820.2 L816.0,820.8 L818.5,821.3 L821.0,821.8 L823.5,822.3 L826.0,822.7 L828.5,823.2 L831.0,823.7 L833.5,824.2 L836.0,824.7 L838.5,825.1 L841.0,825.6 L843.5,826.0 L846.0,826.5 L848.5,826.9 L851.0,827.4 L853.5,827.8 L856.0,828.3 L858.5,828.7 L861.0,829.1 L863.5,829.5 L866.0,830.0 L868.5,830.4 L871.0,830.8 L873.5,831.2 L876.0,831.6 L878.5,832.0 L881.0,832.4 L883.5,832.8 L886.0,833.2 L888.5,833.6 L891.0,833.9 L893.5,834.3 L896.0,834.7 L898.5,835.1 L901.0,835.4 L903.5,835.8 L906.0,836.2 L908.5,836.5 L911.0,836.9 L913.5,837.2 L916.0,837.6 L918.5,837.9 L921.0,838.3 L923.5,838.6 L926.0,838.9 L928.5,839.3 L931.0,839.6 L933.5,839.9 L936.0,840.3 L938.5,840.6 L941.0,840.9 L943.5,841.2 L946.0,841.5 L948.5,841.8 L951.0,842.1 L953.5,842.4 L956.0,842.7 L958.5,843.0 L961.0,843.3 L963.5,843.6 L966.0,843.9 L968.5,844.2 L971.0,844.5 L973.5,844.8 L976.0,845.1 L978.5,845.4 L981.0,845.6 L983.5,845.9 L986.0,846.2 L988.5,846.5 L991.0,846.7 L993.5,847.0 L996.0,847.3 L998.5,847.5 L1001.0,847.8 L1003.5,848.1 L1006.0,848.3 L1008.5,848.6 L1011.0,848.8 L1013.5,849.1 L1016.0,849.3 L1018.5,849.6 L1021.0,849.8 L1023.5,850.1 L1026.0,850.3 L1028.5,850.6 L1031.0,850.8 L1033.5,851.1 L1036.0,851.3 L1038.5,851.6 L1041.0,851.8 L1043.5,852.0 L1046.0,852.3 L1048.5,852.5 L1051.0,852.7 L1053.5,853.0 L1056.0,853.2 L1058.5,853.4 L1061.0,853.7 L1063.5,853.9 L1066.0,854.1 L1068.5,854.4 L1071.0,854.6 L1073.5,854.8 L1076.0,855.1 L1078.5,855.3 L1081.0,855.5 L1083.5,855.7 L1086.0,856.0 L1088.5,856.2 L1091.0,856.4 L1093.5,856.6 L1096.0,856.9 L1098.5,857.1 L1101.0,857.3 L1103.5,857.5 L1106.0,857.7 L1108.5,858.0 L1111.0,858.2 L1113.5,858.4 L1116.0,858.6 L1118.5,858.8 L1121.0,859.1 L1123.5,859.3 L1126.0,859.5 L1128.5,859.7 L1131.0,859.9 L1133.5,860.2 L1136.0,860.4 L1138.5,860.6 L1141.0,860.8 L1143.5,861.0 L1146.0,861.2 L1148.5,861.4 L1151.0,861.6 L1153.5,861.9 L1156.0,862.1 L1158.5,862.3 L1161.0,862.5 L1163.5,862.7 L1166.0,862.9 L1168.5,863.1 L1171.0,863.3 L1173.5,863.5 L1176.0,863.7 L1178.5,864.0 L1181.0,864.2 L1183.5,864.4 L1186.0,864.6 L1188.5,864.8 L1191.0,865.0 L1193.5,865.2 L1196.0,865.4 L1198.5,865.6 L1201.0,865.8 L1203.5,866.0 L1206.0,866.2 L1208.5,866.4 L1211.0,866.6 L1213.5,866.8 L1216.0,867.0 L1218.5,867.2 L1221.0,867.4 L1223.5,867.6 L1226.0,867.8 L1228.5,868.0 L1231.0,868.2 L1233.5,868.4 L1236.0,868.6 L1238.5,868.8 L1241.0,869.0 L1243.5,869.2 L1246.0,869.3 L1248.5,869.5 L1251.0,869.7 L1253.5,869.9 L1256.0,870.1 L1258.5,870.3 L1261.0,870.5 L1263.5,870.7 L1266.0,870.9 L1268.5,871.1 L1271.0,871.2 L1273.5,871.4 L1276.0,871.6 L1278.5,871.8 L1281.0,872.0 L1283.5,872.2 L1286.0,872.4 L1288.5,872.5 L1291.0,872.7 L1293.5,872.9 L1296.0,873.1 L1298.5,873.3 L1301.0,873.5 L1303.5,873.6 L1306.0,873.8 L1308.5,874.0 L1311.0,874.2 L1313.5,874.4 L1316.0,874.5 L1318.5,874.7 L1321.0,874.9 L1323.5,875.1 L1326.0,875.3 L1328.5,875.4 L1331.0,875.6 L1333.5,875.8 L1336.0,876.0 L1338.5,876.1 L1341.0,876.3 L1343.5,876.5 L1346.0,876.6 L1348.5,876.8 L1351.0,877.0 L1353.5,877.2 L1356.0,877.3 L1358.5,877.5 L1361.0,877.7 L1363.5,877.8 L1366.0,878.0 L1368.5,878.2 L1371.0,878.3 L1373.5,878.5 L1376.0,878.7 L1378.5,878.8 L1381.0,879.0 L1383.5,879.2 L1386.0,879.3 L1388.5,879.5 L1391.0,879.7 L1393.5,879.8 L1396.0,880.0 L1398.5,880.1 L1401.0,880.3 L1403.5,880.5 L1406.0,880.6 L1408.5,880.8 L1411.0,880.9 L1413.5,881.1 L1416.0,881.2 L1418.5,881.4 L1421.0,881.6 L1423.5,881.7 L1426.0,881.9 L1428.5,882.0 L1431.0,882.2 L1433.5,882.3 L1436.0,882.5 L1438.5,882.6 L1441.0,882.8 L1443.5,882.9 L1446.0,883.1 L1448.5,883.2 L1451.0,883.4 L1453.5,883.5 L1456.0,883.7 L1458.5,883.8 L1461.0,884.0 L1463.5,884.1 L1466.0,884.3 L1468.5,884.4 L1471.0,884.6 L1473.5,884.7 L1476.0,884.9 L1478.5,885.0 L1481.0,885.1 L1483.5,885.3 L1486.0,885.4 L1488.5,885.6 L1491.0,885.7 L1493.5,885.9 L1496.0,886.0 L1498.5,886.1 L1501.0,886.3 L1503.5,886.4 L1506.0,886.6 L1508.5,886.7 L1511.0,886.8 L1513.5,887.0 L1516.0,887.1 L1518.5,887.2 L1521.0,887.4 L1523.5,887.5 L1526.0,887.6 L1528.5,887.8 L1531.0,887.9 L1533.5,888.0 L1536.0,888.2 L1538.5,888.3 L1541.0,888.4 L1543.5,888.6 L1546.0,888.7 L1548.5,888.8 L1551.0,888.9 L1553.5,889.1 L1556.0,889.2 L1558.5,889.3 L1561.0,889.4 L1563.5,889.6 L1566.0,889.7 L1568.5,889.8 L1571.0,889.9 L1573.5,890.1 L1576.0,890.2 L1578.5,890.3 L1581.0,890.4 L1583.5,890.6 L1586.0,890.7 L1588.5,890.8 L1591.0,890.9 L1593.5,891.0 L1596.0,891.2 L1598.5,891.3 L1601.0,891.4 L1603.5,891.5 L1606.0,891.6 L1608.5,891.7 L1611.0,891.8 L1613.5,892.0 L1616.0,892.1 L1618.5,892.2 L1621.0,892.3 L1623.5,892.4 L1626.0,892.5 L1628.5,892.6 L1631.0,892.7 L1633.5,892.9 L1636.0,893.0 L1638.5,893.1 L1641.0,893.2 L1643.5,893.3 L1646.0,893.4 L1648.5,893.5 L1651.0,893.6 L1653.5,893.7 L1656.0,893.8 L1658.5,893.9 L1661.0,894.0 L1663.5,894.1 L1666.0,894.2 L1668.5,894.3 L1671.0,894.4 L1673.5,894.5 L1676.0,894.6 L1678.5,894.7 L1681.0,894.8 L1683.5,894.9 L1686.0,895.0 L1688.5,895.1 L1691.0,895.2 L1693.5,895.3 L1696.0,895.4 L1698.5,895.5 L1701.0,895.6 L1703.5,895.7 L1706.0,895.8 L1708.5,895.9 L1711.0,896.0 L1713.5,896.1 L1716.0,896.2 L1718.5,896.3 L1721.0,896.3 L1723.5,896.4 L1726.0,896.5 L1728.5,896.6 L1731.0,896.7 L1733.5,896.8 L1736.0,896.9 L1738.5,897.0 L1741.0,897.0 L1743.5,897.1 L1746.0,897.2 L1748.5,897.3 L1751.0,897.4 L1753.5,897.5 L1756.0,897.6 L1758.5,897.6 L1761.0,897.7 L1763.5,897.8 L1766.0,897.9 L1768.5,898.0 L1771.0,898.0 L1773.5,898.1 L1776.0,898.2 L1778.5,898.3 L1781.0,898.3 L1783.5,898.4 L1786.0,898.5 L1788.5,898.6 L1791.0,898.6 L1793.5,898.7 L1796.0,898.8 L1798.5,898.9 L1801.0,898.9 L1803.5,899.0 L1806.0,899.1 L1808.5,899.1 L1811.0,899.2 L1813.5,899.3 L1816.0,899.4 L1818.5,899.4 L1821.0,899.5 L1823.5,899.6 L1826.0,899.6 L1828.5,899.7 L1831.0,899.8 L1833.5,899.8 L1836.0,899.9 L1838.5,899.9 L1841.0,900.0 L1843.5,900.1 L1846.0,900.1 L1848.5,900.2 L1851.0,900.3 L1853.5,900.3 L1856.0,900.4 L1858.5,900.4 L1861.0,900.5 L1863.5,900.5 L1866.0,900.6 L1868.5,900.7 L1871.0,900.7 L1873.5,900.8 L1876.0,900.8 L1878.5,900.9 L1881.0,900.9 L1883.5,901.0 L1886.0,901.0 L1888.5,901.1 L1891.0,901.1 L1893.5,901.2 L1896.0,901.2 L1898.5,901.3 L1901.0,901.3 L1903.5,901.4 L1906.0,901.4 L1908.5,901.5" stroke="#00f"/>
<path d="M316.0,319.8 L318.5,325.0 L321.0,330.1 L323.5,335.1 L326.0,340.1 L328.5,345.0 L331.0,349.9 L333.5,354.6 L336.0,359.3 L338.5,363.9 L341.0,368.5 L343.5,372.9 L346.0,377.3 L348.5,381.7 L351.0,385.9 L353.5,390.1 L356.0,394.3 L358.5,398.4 L361.0,402.4 L363.5,406.3 L366.0,410.2 L368.5,414.0 L371.0,417.8 L373.5,421.5 L376.0,425.1 L378.5,428.7 L381.0,432.3 L383.5,435.7 L386.0,439.2 L388.5,442.5 L391.0,445.8 L393.5,449.1 L396.0,452.3 L398.5,455.5 L401.0,458.6 L403.5,461.6 L406.0,464.7 L408.5,467.6 L411.0,470.5 L413.5,473.4 L416.0,476.2 L418.5,479.0 L421.0,481.8 L423.5,484.5 L426.0,487.1 L428.5,489.7 L431.0,492.3 L433.5,494.9 L436.0,497.4 L438.5,499.8 L441.0,502.2 L443.5,504.6 L446.0,507.0 L448.5,509.3 L451.0,511.6 L453.5,513.9 L456.0,516.1 L458.5,518.3 L461.0,520.5 L463.5,522.6 L466.0,524.7 L468.5,526.8 L471.0,528.9 L473.5,530.9 L476.0,532.9 L478.5,534.9 L481.0,536.9 L483.5,538.8 L486.0,540.7 L488.5,542.6 L491.0,544.5 L493.5,546.4 L496.0,548.2 L498.5,550.0 L501.0,551.8 L503.5,553.6 L506.0,555.4 L508.5,557.2 L511.0,559.0 L513.5,560.7 L516.0,562.4 L518.5,564.2 L521.0,565.9 L523.5,567.6 L526.0,569.3 L528.5,571.0 L531.0,572.6 L533.5,574.3 L536.0,575.9 L538.5,577.6 L541.0,579.2 L543.5,580.8 L546.0,582.4 L548.5,584.0 L551.0,585.6 L553.5,587.2 L556.0,588.7 L558.5,590.3 L561.0,591.8 L563.5,593.4 L566.0,594.9 L568.5,596.4 L571.0,597.9 L573.5,599.4 L576.0,600.9 L578.5,602.4 L581.0,603.8 L583.5,605.3 L586.0,606.7 L588.5,608.2 L591.0,609.6 L593.5,611.0 L596.0,612.4 L598.5,613.8 L601.0,615.2 L603.5,616.6 L606.0,618.0 L608.5,619.3 L611.0,620.7 L613.5,622.0 L616.0,623.3 L618.5,624.7 L621.0,626.0 L623.5,627.3 L626.0,628.6 L628.5,629.9 L631.0,631.1 L633.5,632.4 L636.0,633.7 L638.5,634.9 L641.0,636.2 L643.5,637.4 L646.0,638.6 L648.5,639.8 L651.0,641.0 L653.5,642.2 L656.0,643.4 L658.5,644.6 L661.0,645.8 L663.5,647.0 L666.0,648.1 L668.5,649.3 L671.0,650.4 L673.5,651.5 L676.0,652.7 L678.5,653.8 L681.0,654.9 L683.5,656.0 L686.0,657.1 L688.5,658.2 L691.0,659.3 L693.5,660.3 L696.0,661.4 L698.5,662.4 L701.0,663.5 L703.5,664.5 L706.0,665.6 L708.5,666.6 L711.0,667.6 L713.5,668.6 L716.0,669.6 L718.5,670.6 L721.0,671.6 L723.5,672.6 L726.0,673.6 L728.5,674.5 L731.0,675.5 L733.5,676.5 L736.0,677.4 L738.5,678.3 L741.0,679.3 L743.5,680.2 L746.0,681.1 L748.5,682.0 L751.0,682.9 L753.5,683.8 L756.0,684.7 L758.5,685.6 L761.0,686.5 L763.5,687.4 L766.0,688.3 L768.5,689.1 L771.0,690.0 L773.5,690.8 L776.0,691.7 L778.5,692.5 L781.0,693.3 L783.5,694.2 L786.0,695.0 L788.5,695.8 L791.0,696.6 L793.5,697.4 L796.0,698.2 L798.5,699.0 L801.0,699.8 L803.5,700.6 L806.0,701.3 L808.5,702.1 L811.0,702.9 L813.5,703.6 L816.0,704.4 L818.5,705.1 L821.0,705.9 L823.5,706.6 L826.0,707.3 L828.5,708.1 L831.0,708.8 L833.5,709.5 L836.0,710.2 L838.5,710.9 L841.0,711.6 L843.5,712.3 L846.0,713.0 L848.5,713.7 L851.0,714.4 L853.5,715.1 L856.0,715.7 L858.5,716.4 L861.0,717.1 L863.5,717.7 L866.0,718.4 L868.5,719.0 L871.0,719.7 L873.5,720.3 L876.0,721.0 L878.5,721.6 L881.0,722.2 L883.5,722.9 L886.0,723.5 L888.5,724.1 L891.0,724.7 L893.5,725.3 L896.0,725.9 L898.5,726.5 L901.0,727.1 L903.5,727.7 L906.0,728.3 L908.5,728.9 L911.0,729.5 L913.5,730.1 L916.0,730.7 L918.5,731.2 L921.0,731.8 L923.5,732.4 L926.0,733.0 L928.5,733.5 L931.0,734.1 L933.5,734.6 L936.0,735.2 L938.5,735.7 L941.0,736.3 L943.5,736.8 L946.0,737.4 L948.5,737.9 L951.0,738.4 L953.5,739.0 L956.0,739.5 L958.5,740.0 L961.0,740.6 L963.5,741.1 L966.0,741.6 L968.5,742.1 L971.0,742.6 L973.5,743.1 L976.0,743.7 L978.5,744.2 L981.0,744.7 L983.5,745.2 L986.0,745.7 L988.5,746.2 L991.0,746.7 L993.5,747.2 L996.0,747.7 L998.5,748.2 L1001.0,748.6 L1003.5,749.1 L1006.0,749.6 L1008.5,750.1 L1011.0,750.6 L1013.5,751.1 L1016.0,751.6 L1018.5,752.0 L1021.0,752.5 L1023.5,753.0 L1026.0,753.5 L1028.5,753.9 L1031.0,754.4 L1033.5,754.9 L1036.0,755.3 L1038.5,755.8 L1041.0,756.3 L1043.5,756.7 L1046.0,757.2 L1048.5,757.7 L1051.0,758.1 L1053.5,758.6 L1056.0,759.0 L1058.5,759.5 L1061.0,759.9 L1063.5,760.4 L1066.0,760.8 L1068.5,761.3 L1071.0,761.7 L1073.5,762.2 L1076.0,762.6 L1078.5,763.1 L1081.0,763.5 L1083.5,763.9 L1086.0,764.4 L1088.5,764.8 L1091.0,765.2 L1093.5,765.7 L1096.0,766.1 L1098.5,766.5 L1101.0,767.0 L1103.5,767.4 L1106.0,767.8 L1108.5,768.2 L1111.0,768.7 L1113.5,769.1 L1116.0,769.5 L1118.5,769.9 L1121.0,770.3 L1123.5,770.7 L1126.0,771.2 L1128.5,771.6 L1131.0,772.0 L1133.5,772.4 L1136.0,772.8 L1138.5,773.2 L1141.0,773.6 L1143.5,774.0 L1146.0,774.4 L1148.5,774.8 L1151.0,775.2 L1153.5,775.6 L1156.0,776.0 L1158.5,776.4 L1161.0,776.8 L1163.5,777.2 L1166.0,777.6 L1168.5,778.0 L1171.0,778.3 L1173.5,778.7 L1176.0,779.1 L1178.5,779.5 L1181.0,779.9 L1183.5,780.3 L1186.0,780.6 L1188.5,781.0 L1191.0,781.4 L1193.5,781.8 L1196.0,782.1 L1198.5,782.5 L1201.0,782.9 L1203.5,783.2 L1206.0,783.6 L1208.5,784.0 L1211.0,784.3 L1213.5,784.7 L1216.0,785.1 L1218.5,785.4 L1221.0,785.8 L1223.5,786.1 L1226.0,786.5 L1228.5,786.9 L1231.0,787.2 L1233.5,787.6 L1236.0,787.9 L1238.5,788.3 L1241.0,788.6 L1243.5,789.0 L1246.0,789.3 L1248.5,789.7 L1251.0,790.0 L1253.5,790.3 L1256.0,790.7 L1258.5,791.0 L1261.0,791.4 L1263.5,791.7 L1266.0,792.0 L1268.5,792.4 L1271.0,792.7 L1273.5,793.0 L1276.0,793.4 L1278.5,793.7 L1281.0,794.0 L1283.5,794.4 L1286.0,794.7 L1288.5,795.0 L1291.0,795.3 L1293.5,795.7 L1296.0,796.0 L1298.5,796.3 L1301.0,796.6 L1303.5,796.9 L1306.0,797.3 L1308.5,797.6 L1311.0,797.9 L1313.5,798.2 L1316.0,798.5 L1318.5,798.8 L1321.0,799.1 L1323.5,799.4 L1326.0,799.7 L1328.5,800.0 L1331.0,800.4 L1333.5,800.7 L1336.0,801.0 L1338.5,801.3 L1341.0,801.6 L1343.5,801.9 L1346.0,802.2 L1348.5,802.5 L1351.0,802.7 L1353.5,803.0 L1356.0,803.3 L1358.5,803.6 L1361.0,803.9 L1363.5,804.2 L1366.0,804.5 L1368.5,804.8 L1371.0,805.1 L1373.5,805.4 L1376.0,805.6 L1378.5,805.9 L1381.0,806.2 L1383.5,806.5 L1386.0,806.8 L1388.5,807.0 L1391.0,807.3 L1393.5,807.6 L1396.0,807.9 L1398.5,808.1 L1401.0,808.4 L1403.5,808.7 L1406.0,809.0 L1408.5,809.2 L1411.0,809.5 L1413.5,809.8 L1416.0,810.0 L1418.5,810.3 L1421.0,810.6 L1423.5,810.8 L1426.0,811.1 L1428.5,811.3 L1431.0,811.6 L1433.5,811.9 L1436.0,812.1 L1438.5,812.4 L1441.0,812.6 L1443.5,812.9 L1446.0,813.1 L1448.5,813.4 L1451.0,813.7 L1453.5,813.9 L1456.0,814.2 L1458.5,814.4 L1461.0,814.6 L1463.5,814.9 L1466.0,815.1 L1468.5,815.4 L1471.0,815.6 L1473.5,815.9 L1476.0,816.1 L1478.5,816.4 L1481.0,816.6 L1483.5,816.8 L1486.0,817.1 L1488.5,817.3 L1491.0,817.5 L1493.5,817.8 L1496.0,818.0 L1498.5,818.2 L1501.0,818.5 L1503.5,818.7 L1506.0,818.9 L1508.5,819.2 L1511.0,819.4 L1513.5,819.6 L1516.0,819.9 L1518.5,820.1 L1521.0,820.3 L1523.5,820.5 L1526.0,820.8 L1528.5,821.0 L1531.0,821.2 L1533.5,821.4 L1536.0,821.6 L1538.5,821.9 L1541.0,822.1 L1543.5,822.3 L1546.0,822.5 L1548.5,822.7 L1551.0,822.9 L1553.5,823.1 L1556.0,823.4 L1558.5,823.6 L1561.0,823.8 L1563.5,824.0 L1566.0,824.2 L1568.5,824.4 L1571.0,824.6 L1573.5,824.8 L1576.0,825.0 L1578.5,825.2 L1581.0,825.4 L1583.5,825.6 L1586.0,825.8 L1588.5,826.0 L1591.0,826.2 L1593.5,826.4 L1596.0,826.6 L1598.5,826.8 L1601.0,827.0 L1603.5,827.2 L1606.0,827.4 L1608.5,827.6 L1611.0,827.8 L1613.5,828.0 L1616.0,828.2 L1618.5,828.4 L1621.0,828.6 L1623.5,828.8 L1626.0,829.0 L1628.5,829.2 L1631.0,829.3 L1633.5,829.5 L1636.0,829.7 L1638.5,829.9 L1641.0,830.1 L1643.5,830.3 L1646.0,830.5 L1648.5,830.6 L1651.0,830.8 L1653.5,831.0 L1656.0,831.2 L1658.5,831.4 L1661.0,831.5 L1663.5,831.7 L1666.0,831.9 L1668.5,832.1 L1671.0,832.2 L1673.5,832.4 L1676.0,832.6 L1678.5,832.8 L1681.0,832.9 L1683.5,833.1 L1686.0,833.3 L1688.5,833.5 L1691.0,833.6 L1693.5,833.8 L1696.0,834.0 L1698.5,834.1 L1701.0,834.3 L1703.5,834.5 L1706.0,834.6 L1708.5,834.8 L1711.0,835.0 L1713.5,835.1 L1716.0,835.3 L1718.5,835.5 L1721.0,835.6 L1723.5,835.8 L1726.0,835.9 L1728.5,836.1 L1731.0,836.3 L1733.5,836.4 L1736.0,836.6 L1738.5,836.7 L1741.0,836.9 L1743.5,837.1 L1746.0,837.2 L1748.5,837.4 L1751.0,837.5 L1753.5,837.7 L1756.0,837.8 L1758.5,838.0 L1761.0,838.1 L1763.5,838.3 L1766.0,838.4 L1768.5,838.6 L1771.0,838.7 L1773.5,838.9 L1776.0,839.0 L1778.5,839.2 L1781.0,839.3 L1783.5,839.5 L1786.0,839.6 L1788.5,839.8 L1791.0,839.9 L1793.5,840.1 L1796.0,840.2 L1798.5,840.4 L1801.0,840.5 L1803.5,840.6 L1806.0,840.8 L1808.5,840.9 L1811.0,841.1 L1813.5,841.2 L1816.0,841.4 L1818.5,841.5 L1821.0,841.6 L1823.5,841.8 L1826.0,841.9 L1828.5,842.0 L1831.0,842.2 L1833.5,842.3 L1836.0,842.5 L1838.5,842.6 L1841.0,842.7 L1843.5,842.9 L1846.0,843.0 L1848.5,843.1 L1851.0,843.3 L1853.5,843.4 L1856.0,843.5 L1858.5,843.7 L1861.0,843.8 L1863.5,843.9 L1866.0,844.1 L1868.5,844.2 L1871.0,844.3 L1873.5,844.5 L1876.0,844.6 L1878.5,844.7 L1881.0,844.8 L1883.5,845.0 L1886.0,845.1 L1888.5,845.2 L1891.0,845.3 L1893.5,845.5 L1896.0,845.6 L1898.5,845.7 L1901.0,845.9 L1903.5,846.0 L1906.0,846.1 L1908.5,846.2" stroke="#f0f"/>
</g>
<line x1="1904.99" y1="39.17499999999973" x2="1904.99" y2="1205.5000000000002" stroke="#000" stroke-width="11.8"/>
<text class="ax" transform="translate(280.8,1202.4) scale(1,1.042)" font-size="68" text-anchor="end">1.7</text>
<text class="ax" transform="translate(280.8,1026.5) scale(1,1.042)" font-size="68" text-anchor="end">1.8</text>
<text class="ax" transform="translate(280.8,850.7) scale(1,1.042)" font-size="68" text-anchor="end">1.9</text>
<text class="ax" transform="translate(280.8,674.9) scale(1,1.042)" font-size="68" text-anchor="end">2.0</text>
<text class="ax" transform="translate(280.8,499.0) scale(1,1.042)" font-size="68" text-anchor="end">2.1</text>
<text class="ax" transform="translate(280.8,323.1) scale(1,1.042)" font-size="68" text-anchor="end">2.2</text>
<text class="ax" transform="translate(280.8,147.3) scale(1,1.042)" font-size="68" text-anchor="end">2.3</text>
<text class="ax" transform="translate(464.1,1274.8) scale(1,1.042)" font-size="68" text-anchor="middle">500</text>
<text class="ax" transform="translate(752.3,1274.8) scale(1,1.042)" font-size="68" text-anchor="middle">600</text>
<text class="ax" transform="translate(1040.5,1274.8) scale(1,1.042)" font-size="68" text-anchor="middle">700</text>
<text class="ax" transform="translate(1328.6,1274.8) scale(1,1.042)" font-size="68" text-anchor="middle">800</text>
<text class="ax" transform="translate(1616.8,1274.8) scale(1,1.042)" font-size="68" text-anchor="middle">900</text>
<text class="ax" transform="translate(1905.0,1274.8) scale(1,1.042)" font-size="68" text-anchor="middle">1000</text>
<text class="ax" transform="translate(1111.3,1396.3) scale(1,1.0)" font-size="74.3" text-anchor="middle">Wavelength (nm)</text>
<text class="ax" transform="translate(86.1,659.6) rotate(-90) scale(1,1.0)" font-size="73" text-anchor="middle">Refractive Index</text>
<g stroke="#808080" fill="none">
<path d="M570.1,551.75 L570.1,206.05 L1729.4,206.05" stroke-width="2.4" stroke-linecap="square"/>
<path d="M568.9,549.4 L1246.3,549.4 L1176,804.5 L1535.4,549.4 L1729.4,549.4 L1729.4,204.85000000000002" stroke-width="4.7" stroke-linejoin="round"/>
</g>
<line x1="566.6" y1="277.8" x2="1727" y2="277.8" stroke="#808080" stroke-width="3.3"/>
<text class="tb" x="689" y="253.5" font-size="31" text-anchor="middle"><tspan>PIs</tspan></text>
<text class="tb" x="901.7" y="253.5" font-size="31" text-anchor="middle"><tspan font-style="italic">n</tspan><tspan font-size="19.5" dx="1" dy="1">TE</tspan></text>
<text class="tb" x="1068.2" y="253.5" font-size="31" text-anchor="middle"><tspan font-style="italic">n</tspan><tspan font-size="19.5" dx="1" dy="1">TM</tspan></text>
<text class="tb" x="1225.1" y="253.5" font-size="31" text-anchor="middle"><tspan font-style="italic">n</tspan><tspan font-size="19.5" dx="1" dy="1">av</tspan></text>
<text class="tb" x="1403.4" y="253.5" font-size="31" text-anchor="middle"><tspan>Δ</tspan><tspan font-style="italic">n</tspan></text>
<text x="1615.8" y="253.5" font-family="Liberation Serif,serif" font-size="31" text-anchor="middle" fill="#000">ν<tspan font-size="19.5" dy="2.2">D</tspan></text>
<text class="tb" x="689" y="324.4" font-size="31" text-anchor="middle">PI-1</text>
<text class="tb" x="901.7" y="324.4" font-size="31" text-anchor="middle">1.812</text>
<text class="tb" x="1068.2" y="324.4" font-size="31" text-anchor="middle">1.662</text>
<text class="tb" x="1225.1" y="324.4" font-size="31" text-anchor="middle">1.763</text>
<text class="tb" x="1403.4" y="324.4" font-size="31" text-anchor="middle">0.150</text>
<text class="tb" x="1615.8" y="324.4" font-size="31" text-anchor="middle">19.7</text>
<text class="tb" x="689" y="388.6" font-size="31" text-anchor="middle">PI-2</text>
<text class="tb" x="901.7" y="388.6" font-size="31" text-anchor="middle">1.972</text>
<text class="tb" x="1068.2" y="388.6" font-size="31" text-anchor="middle">1.916</text>
<text class="tb" x="1225.1" y="388.6" font-size="31" text-anchor="middle">1.953</text>
<text class="tb" x="1403.4" y="388.6" font-size="31" text-anchor="middle">0.056</text>
<text class="tb" x="1615.8" y="388.6" font-size="31" text-anchor="middle">24.6</text>
<text class="tb" x="689" y="452.5" font-size="31" text-anchor="middle">PI-3</text>
<text class="tb" x="901.7" y="452.5" font-size="31" text-anchor="middle">1.942</text>
<text class="tb" x="1068.2" y="452.5" font-size="31" text-anchor="middle">1.823</text>
<text class="tb" x="1225.1" y="452.5" font-size="31" text-anchor="middle">1.903</text>
<text class="tb" x="1403.4" y="452.5" font-size="31" text-anchor="middle">0.119</text>
<text class="tb" x="1615.8" y="452.5" font-size="31" text-anchor="middle">8.7</text>
<text class="tb" x="689" y="516.4" font-size="31" text-anchor="middle">PI-4</text>
<text class="tb" x="901.7" y="516.4" font-size="31" text-anchor="middle">1.976</text>
<text class="tb" x="1068.2" y="516.4" font-size="31" text-anchor="middle">1.951</text>
<text class="tb" x="1225.1" y="516.4" font-size="31" text-anchor="middle">1.968</text>
<text class="tb" x="1403.4" y="516.4" font-size="31" text-anchor="middle">0.025</text>
<text class="tb" x="1615.8" y="516.4" font-size="31" text-anchor="middle">7.2</text>
<text class="ax" transform="translate(792.9,622.8) scale(1,1.042)" font-size="62">PI-4</text>
<line x1="696.7" y1="657.2" x2="744.2" y2="632.1" stroke="#000" stroke-width="3.6"/>
<path d="M769.0,619.0 L746.2,640.1 L738.7,625.9 Z" fill="#000" stroke="#000" stroke-width="2" stroke-linejoin="round"/>
<text class="ax" transform="translate(860.8,806.8) scale(1,1.042)" font-size="62">PI-3</text>
<line x1="762" y1="807.1" x2="817.2" y2="784.9" stroke="#000" stroke-width="3.6"/>
<path d="M843.2,774.5 L818.3,793.1 L812.4,778.3 Z" fill="#000" stroke="#000" stroke-width="2" stroke-linejoin="round"/>
<text class="ax" transform="translate(1549.8,736.1) scale(1,1.042)" font-size="62">PI-2</text>
<line x1="1420.5" y1="769.9" x2="1506.2" y2="741.2" stroke="#000" stroke-width="3.6"/>
<path d="M1532.7,732.3 L1506.8,749.4 L1501.7,734.2 Z" fill="#000" stroke="#000" stroke-width="2" stroke-linejoin="round"/>
<text class="ax" transform="translate(764.7,1032.8) scale(1,1.042)" font-size="62">PI-1</text>
<line x1="644.2" y1="1044.1" x2="729.5" y2="1026.8" stroke="#000" stroke-width="3.6"/>
<path d="M756.9,1021.2 L729.1,1035.0 L725.9,1019.3 Z" fill="#000" stroke="#000" stroke-width="2" stroke-linejoin="round"/>
</svg></body></html>
